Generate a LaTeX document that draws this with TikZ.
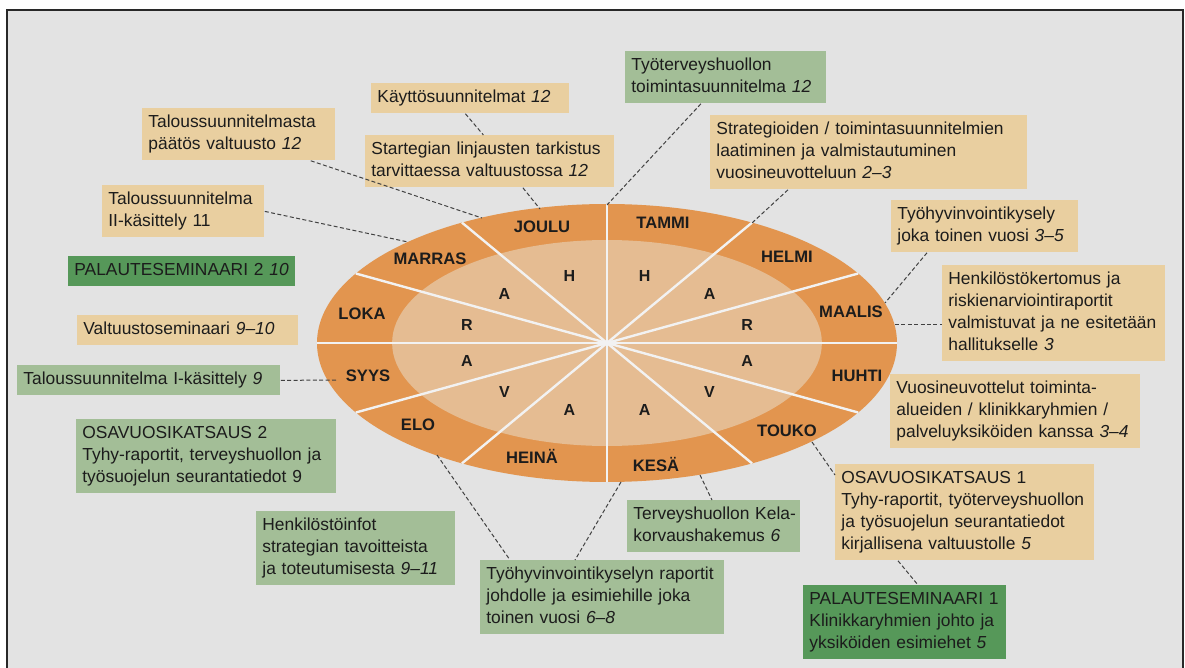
\documentclass[tikz,border=0pt]{standalone}
\usepackage{fontspec}
\setmainfont{Liberation Sans}
\definecolor{panelgray}{RGB}{227,227,227}
\definecolor{framegray}{RGB}{40,40,40}
\definecolor{ringorange}{RGB}{226,149,79}
\definecolor{innerpeach}{RGB}{229,188,146}
\definecolor{boxtan}{RGB}{233,207,160}
\definecolor{boxsage}{RGB}{163,190,151}
\definecolor{boxgreen}{RGB}{86,152,89}
\definecolor{leadergray}{RGB}{65,65,65}
\definecolor{inkblack}{RGB}{28,28,28}
\newcommand{\noteblock}[1]{\begin{tabular}{@{}l@{}}#1\end{tabular}}
\begin{document}
\begin{tikzpicture}[x=0.5pt,y=-0.5pt,
  note/.style={anchor=north west,inner xsep=3pt,inner ysep=2pt,text=inkblack,
    font=\fontsize{8.7}{11}\selectfont},
  tannote/.style={note,fill=boxtan},
  sagenote/.style={note,fill=boxsage},
  greennote/.style={note,fill=boxgreen},
  month/.style={font=\bfseries\fontsize{8.3}{10}\selectfont,text=inkblack,inner sep=1pt},
  letter/.style={font=\bfseries\fontsize{8}{10}\selectfont,text=inkblack,inner sep=1pt},
  divider/.style={draw=white!95!black,line width=1.2pt},
  leader/.style={draw=leadergray,line width=0.5pt,dash pattern=on 2pt off 1.2pt}]
\useasboundingbox (0,0) rectangle (1185,668);
\fill[white] (0,0) rectangle (1185,668);
\fill[panelgray] (7,10) rectangle (1183,668);
\draw[framegray,line width=1pt] (7,668) -- (7,10) -- (1183,10) -- (1183,668);

% year wheel
\begin{scope}[shift={(607,343)},xscale=290,yscale=139]
  \fill[ringorange] (0,0) circle (1);
  \fill[innerpeach] (0,0) circle (0.741);
  \foreach \a in {0,30,...,330}
    \draw[divider] (0,0) -- (\a:1);
  \foreach \l [count=\i] in {H,A,R,A,V,A,A,V,A,R,A,H}
    \node[letter] (l\i) at ({30*\i-105}:0.5) {\l};
\end{scope}
\foreach \mname/\mx/\my [count=\i] in {TAMMI/663/223,HELMI/787/257,MAALIS/851/312,
    HUHTI/857/376,TOUKO/787/431,KESÄ/656/464,HEINÄ/532/456,ELO/418/425,
    SYYS/368/376,LOKA/362/314,MARRAS/430/259,JOULU/542/227}
  \node[month] (m\i) at (\mx,\my) {\mname};

\coordinate (rim-paatos) at (482,218);
\coordinate (rim-joulu) at (540,209);
\coordinate (rim-marras) at (408,242);
\coordinate (rim-top) at (607,205);
\coordinate (rim-helmi) at (752,223);
\coordinate (rim-maalis) at (885,303);
\coordinate (rim-east) at (895,325);
\coordinate (rim-syys) at (337,380);
\coordinate (rim-touko) at (812,442);
\coordinate (rim-kesa) at (700,475);
\coordinate (rim-bottom) at (621,482);
\coordinate (rim-elo) at (437,455);

% notes
\node[tannote,text width=93pt] (kaytto) at (371,83) {\noteblock{Käyttösuunnitelmat \textit{12}}};
\node[tannote,text width=90.5pt] (talpaatos) at (142,108) {\noteblock{Taloussuunnitelmasta\\päätös valtuusto \textit{12}}};
\node[tannote,text width=118.5pt] (strat) at (365,135) {\noteblock{Startegian linjausten tarkistus\\tarvittaessa valtuustossa \textit{12}}};
\node[sagenote,text width=94.5pt] (tyoterv) at (625,51) {\noteblock{Työterveyshuollon\\toimintasuunnitelma \textit{12}}};
\node[tannote,text width=152.5pt] (strategia) at (710,115) {\noteblock{Strategioiden / toimintasuunnitelmien\\laatiminen ja valmistautuminen\\vuosineuvotteluun \textit{2–3}}};
\node[tannote,text width=75pt] (talII) at (102,185) {\noteblock{Taloussuunnitelma\\II-käsittely 11}};
\node[greennote,text width=107.5pt] (palaute2) at (68,256) {\noteblock{PALAUTESEMINAARI 2 \textit{10}}};
\node[tannote,text width=87.5pt] (kysely) at (891,200) {\noteblock{Työhyvinvointikysely\\joka toinen vuosi \textit{3–5}}};
\node[tannote,text width=105.5pt] (henkkert) at (942,265) {\noteblock{Henkilöstökertomus ja\\riskienarviointiraportit\\valmistuvat ja ne esitetään\\hallitukselle \textit{3}}};
\node[tannote,text width=104.5pt] (valtsem) at (77,315) {\noteblock{Valtuustoseminaari \textit{9–10}}};
\node[sagenote,text width=125.5pt] (talI) at (17,365) {\noteblock{Taloussuunnitelma I-käsittely \textit{9}}};
\node[tannote,text width=119pt] (vuosineuv) at (890,374) {\noteblock{Vuosineuvottelut toiminta-\\alueiden / klinikkaryhmien /\\palveluyksiköiden kanssa \textit{3–4}}};
\node[sagenote,text width=124pt] (osav2) at (76,419) {\noteblock{OSAVUOSIKATSAUS 2\\Tyhy-raportit, terveyshuollon ja\\työsuojelun seurantatiedot 9}};
\node[tannote,text width=123.5pt] (osav1) at (835,464) {\noteblock{OSAVUOSIKATSAUS 1\\Tyhy-raportit, työterveyshuollon\\ja työsuojelun seurantatiedot\\kirjallisena valtuustolle \textit{5}}};
\node[sagenote,text width=93.5pt] (henkinfo) at (256,511) {\noteblock{Henkilöstöinfot\\strategian tavoitteista\\ja toteutumisesta \textit{9–11}}};
\node[sagenote,text width=80.5pt] (kela) at (627,500) {\noteblock{Terveyshuollon Kela-\\korvaushakemus \textit{6}}};
\node[sagenote,text width=116pt] (kyselyrap) at (480,560) {\noteblock{Työhyvinvointikyselyn raportit\\johdolle ja esimiehille joka\\toinen vuosi \textit{6–8}}};
\node[greennote,text width=95.5pt] (palaute1) at (803,585) {\noteblock{PALAUTESEMINAARI 1\\Klinikkaryhmien johto ja\\yksiköiden esimiehet \textit{5}}};

% leaders
\draw[leader] ([xshift=-12.5pt]talpaatos.south east) -- (rim-paatos);
\draw[leader] (talII.east) -- (rim-marras);
\draw[leader] ([xshift=-2.5pt]kaytto.south) -- ([xshift=-3.25pt]strat.north);
\draw[leader] ([xshift=16.5pt]strat.south) -- (rim-joulu);
\draw[leader] ([xshift=-12.5pt]tyoterv.south) -- (rim-top);
\draw[leader] ([xshift=39pt]strategia.south west) -- (rim-helmi);
\draw[leader] ([xshift=18pt]kysely.south west) -- (rim-maalis);
\draw[leader] (rim-east) -- (henkkert.west |- rim-east);
\draw[leader] (talI.east) -- (rim-syys);
\draw[leader] (rim-touko) -- ([yshift=-5.5pt]osav1.north west);
\draw[leader] ([xshift=31.5pt]osav1.south west) -- ([xshift=57.5pt]palaute1.north west);
\draw[leader] (rim-kesa) -- ([xshift=42.5pt]kela.north west);
\draw[leader] (rim-bottom) -- ([xshift=47.5pt]kyselyrap.north west);
\draw[leader] (rim-elo) -- ([xshift=15pt]kyselyrap.north west);
\end{tikzpicture}
\end{document}
